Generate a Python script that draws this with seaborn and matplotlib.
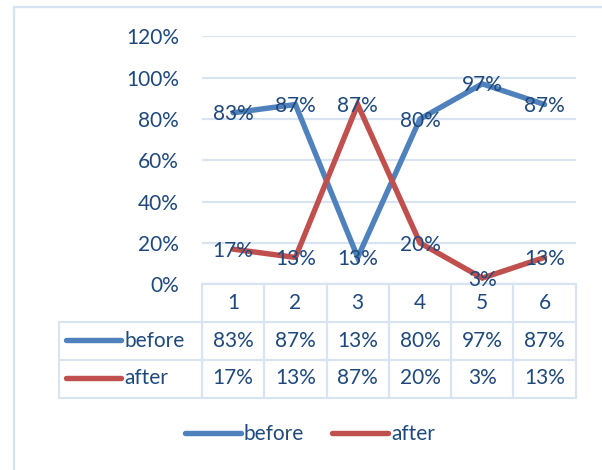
import matplotlib
matplotlib.use("Agg")
import matplotlib.pyplot as plt
from matplotlib.lines import Line2D
from matplotlib.ticker import PercentFormatter
import matplotlib.transforms as mtransforms
import pandas as pd
import seaborn as sns

# Data
items = [1, 2, 3, 4, 5, 6]
before = [83, 87, 13, 80, 97, 87]
after = [17, 13, 87, 20, 3, 13]
series_names = ["before", "after"]
y_ticks = [0, 20, 40, 60, 80, 100, 120]

BLUE = "#4F81BD"
RED = "#C0504D"
TEXT = "#1F497D"
GRID = "#D9E4F2"
FS = 15

sns.set_style("white")
plt.rcParams["font.family"] = ["Lato", "DejaVu Sans"]

W, H = 602, 470
fig = plt.figure(figsize=(W / 100, H / 100), dpi=100)


def fx(px):
    return px / W


def fy(py):
    return 1 - py / H


# Plot area
x0, x1 = 202, 575.7
y_top, y_zero = 36.3, 284.3
ax = fig.add_axes([fx(x0), fy(y_zero), fx(x1) - fx(x0), fy(y_top) - fy(y_zero)])

df = pd.DataFrame({
    "item": items * 2,
    "share": before + after,
    "series": [series_names[0]] * len(items) + [series_names[1]] * len(items),
})
sns.lineplot(data=df, x="item", y="share", hue="series", palette=[BLUE, RED],
             linewidth=3.9, ax=ax, sort=False, legend=True)
for ln in ax.get_lines():
    ln.set_solid_joinstyle("miter")
    ln.set_zorder(3)

handles, labels = ax.get_legend_handles_labels()
ax.get_legend().remove()

ax.set_xlim(0.5, len(items) + 0.5)
ax.set_ylim(0, 120)
ax.set_yticks(y_ticks)
ax.yaxis.set_major_formatter(PercentFormatter(decimals=0))
ax.set_xticks([])
ax.set_xlabel("")
ax.set_ylabel("")
ax.tick_params(axis="y", length=0, pad=16.5, labelsize=FS, labelcolor=TEXT)
for s in ax.spines.values():
    s.set_visible(False)
ax.grid(axis="y", color=GRID, linewidth=1.6)
ax.grid(axis="x", visible=False)
ax.set_facecolor("none")

# Data labels centred on each point
for vals in (before, after):
    for x, v in zip(items, vals):
        ax.annotate(f"{v}%", (x, v), xytext=(0, -1.2), textcoords="offset points",
                    ha="center", va="center", fontsize=FS, color=TEXT, zorder=5,
                    annotation_clip=False)

# Data table under the plot (drawn beneath the axes content)
blend = mtransforms.blended_transform_factory(ax.transData, fig.transFigure)
row_lines = [284.3, 321.7, 360.0, 397.5]
label_left = 59.3
tl_kw = dict(color=GRID, linewidth=1.6, zorder=-1)

fig.add_artist(Line2D([0.5, len(items) + 0.5], [fy(row_lines[0])] * 2, transform=blend, **tl_kw))
for py in row_lines[1:]:
    fig.add_artist(Line2D([fx(label_left), fx(x1)], [fy(py)] * 2, transform=fig.transFigure, **tl_kw))
for k in range(len(items) + 1):
    fig.add_artist(Line2D([k + 0.5] * 2, [fy(row_lines[0]), fy(row_lines[-1])], transform=blend, **tl_kw))
fig.add_artist(Line2D([fx(label_left)] * 2, [fy(row_lines[1]), fy(row_lines[-1])],
                      transform=fig.transFigure, **tl_kw))

header_y = 303
row_y = [341, 378.5]
for x in items:
    fig.text(x, fy(header_y), str(x), transform=blend, ha="center", va="center",
             fontsize=FS, color=TEXT)
for vals, ry in zip((before, after), row_y):
    for x, v in zip(items, vals):
        fig.text(x, fy(ry), f"{v}%", transform=blend, ha="center", va="center",
                 fontsize=FS, color=TEXT)

for name, col, ry in zip(series_names, (BLUE, RED), row_y):
    fig.add_artist(Line2D([fx(66), fx(121)], [fy(ry - 1)] * 2, transform=fig.transFigure,
                          color=col, linewidth=3.9, solid_capstyle="round"))
    fig.text(fx(124.5), fy(ry), name, ha="left", va="center", fontsize=FS, color=TEXT)

# Legend
for h in handles:
    h.set_solid_capstyle("round")
fig.legend(handles, labels, loc="center", bbox_to_anchor=(fx(310), fy(434.5)), ncol=2,
           frameon=False, fontsize=FS, labelcolor=TEXT, handlelength=2.69,
           handletextpad=0.15, columnspacing=1.35, borderpad=0)

# Chart frame
frame_kw = dict(color="#D6E3F4", linewidth=1.6, transform=fig.transFigure, zorder=-1)
fig.add_artist(Line2D([fx(14), fx(14)], [fy(6.7), 0], **frame_kw))
fig.add_artist(Line2D([fx(14), 1], [fy(6.7), fy(6.7)], **frame_kw))

fig.savefig("out.png", dpi=100)
